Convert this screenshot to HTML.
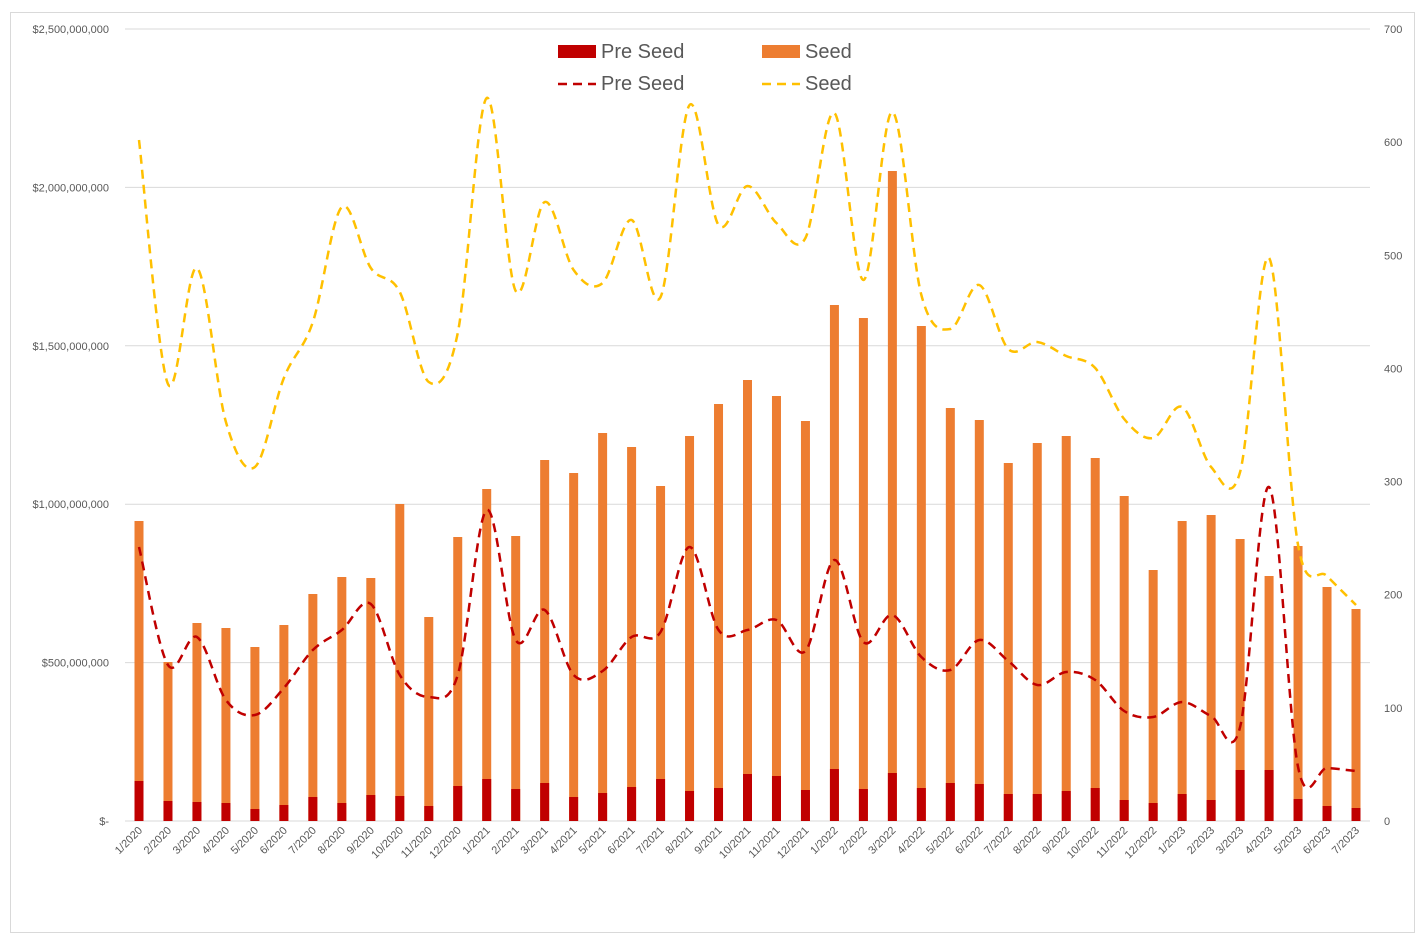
<!DOCTYPE html>
<html><head><meta charset="utf-8"><style>
body{margin:0;background:#fff;font-family:"Liberation Sans",sans-serif}
</style></head><body>
<svg id="s" width="1426" height="937" xmlns="http://www.w3.org/2000/svg" font-family="Liberation Sans, sans-serif"></svg>
<script>
const s=document.getElementById('s');let h='';
h+='<rect x="10.5" y="12.5" width="1404" height="920" fill="#fff" stroke="#d9d9d9"/>';
const y0=821,yt=29;
const ll=['$-','$500,000,000','$1,000,000,000','$1,500,000,000','$2,000,000,000','$2,500,000,000'];
for(let i=0;i<6;i++){const y=y0-i*(y0-yt)/5;
h+=`<line x1="125" x2="1370" y1="${y}" y2="${y}" stroke="#d9d9d9"/>`;
h+=`<text x="109" y="${y+4}" text-anchor="end" font-size="11" fill="#595959">${ll[i]}</text>`;}
for(let i=0;i<=7;i++){const y=y0-i*(y0-yt)/7;h+=`<text x="1384" y="${y+4}" font-size="11" fill="#595959">${i*100}</text>`;}
const bt=[521,662,623,628,647,625,594,577,578,504,617,537,489,536,460,473,433,447,486,436,404,380,396,421,305,318,171,326,408,420,463,443,436,458,496,570,521,515,539,576,546,587,609];
const rt=[781,801,802,803,809,805,797,803,795,796,806,786,779,789,783,797,793,787,779,791,788,774,776,790,769,789,773,788,783,784,794,794,791,788,800,803,794,800,770,770,799,806,808];
const sd=[140,384,268,422,467,378,322,207,268,292,382,333,98,291,202,270,283,220,297,105,225,186,223,238,113,280,112,295,329,285,349,342,356,368,419,438,407,467,472,258,545,576,605];
const ps=[547,665,637,700,715,688,650,630,604,675,697,675,510,640,610,675,671,637,632,547,630,630,620,651,560,642,615,657,670,640,661,685,672,680,711,717,702,716,727,487,767,768,771];
const X=i=>139+i*(1356-139)/42;
const lab=[];for(let y=2020;y<=2023;y++)for(let m=1;m<=12;m++){if(y==2023&&m>7)break;lab.push(m+'/'+y);}
for(let i=0;i<43;i++){const x=X(i);
h+=`<rect x="${x-4.5}" y="${bt[i]}" width="9" height="${y0-bt[i]}" fill="#ed7d31"/>`;
h+=`<rect x="${x-4.5}" y="${rt[i]}" width="9" height="${y0-rt[i]}" fill="#c00000"/>`;
h+=`<text transform="translate(${x+4},${y0+10}) rotate(-45)" text-anchor="end" font-size="11" fill="#595959">${lab[i]}</text>`;}
function path(a){let d=`M${X(0)},${a[0]}`;for(let i=0;i<a.length-1;i++){const p0=[X(Math.max(i-1,0)),a[Math.max(i-1,0)]],p1=[X(i),a[i]],p2=[X(i+1),a[i+1]],p3=[X(Math.min(i+2,a.length-1)),a[Math.min(i+2,a.length-1)]];const t=6;
d+=` C${p1[0]+(p2[0]-p0[0])/t},${p1[1]+(p2[1]-p0[1])/t} ${p2[0]-(p3[0]-p1[0])/t},${p2[1]-(p3[1]-p1[1])/t} ${p2[0]},${p2[1]}`;}return d;}
h+=`<path d="${path(sd)}" fill="none" stroke="#ffc000" stroke-width="2.5" stroke-dasharray="9,6"/>`;
h+=`<path d="${path(ps)}" fill="none" stroke="#c00000" stroke-width="2.5" stroke-dasharray="9,6"/>`;
h+='<rect x="558" y="45" width="38" height="13" fill="#c00000"/><text x="601" y="58" font-size="20" fill="#595959">Pre Seed</text>';
h+='<rect x="762" y="45" width="38" height="13" fill="#ed7d31"/><text x="805" y="58" font-size="20" fill="#595959">Seed</text>';
h+='<line x1="558" x2="596" y1="84" y2="84" stroke="#c00000" stroke-width="2.5" stroke-dasharray="9,6"/><text x="601" y="90" font-size="20" fill="#595959">Pre Seed</text>';
h+='<line x1="762" x2="800" y1="84" y2="84" stroke="#ffc000" stroke-width="2.5" stroke-dasharray="9,6"/><text x="805" y="90" font-size="20" fill="#595959">Seed</text>';
s.innerHTML=h;
</script>
</body></html>
